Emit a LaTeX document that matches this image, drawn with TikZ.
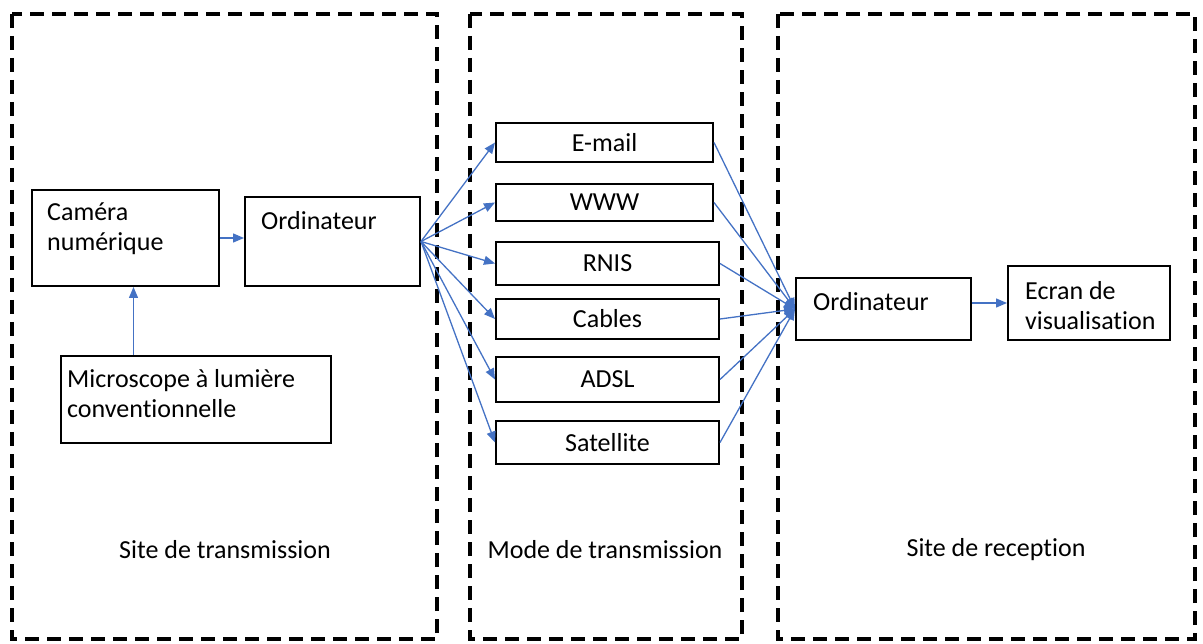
\documentclass[tikz,border=0pt]{standalone}
\usepackage{fontspec}
\setmainfont{Carlito}[Ligatures=NoCommon]
\usetikzlibrary{arrows.meta, positioning}
\definecolor{linkblue}{RGB}{68,114,196}

\begin{document}
\begin{tikzpicture}[x=1pt, y=-1pt,
  frame/.style={line width=3.5pt, dash pattern=on 14pt off 8pt},
  box/.style={draw, line width=2pt, inner sep=0pt},
  txt/.style={inner sep=0pt, align=left, font=\fontsize{26}{30}\selectfont},
  chan/.style={box, anchor=west, font=\fontsize{26}{30}\selectfont},
  link/.style={linkblue, line width=1.3pt, arrows={-Triangle[length=11pt,width=9pt]}}]
  \useasboundingbox (0,0) rectangle (1203,644);
  % dashed areas
  \draw[frame] (12,14) rectangle (437,639);
  \draw[frame] (470,14) rectangle (742,639);
  \draw[frame] (778,14) rectangle (1195,639);
  % site de transmission
  \node[box, minimum width=187pt, minimum height=96pt,
    label={[txt, anchor=north west, xshift=16pt, yshift=-14pt]north west:Caméra\\numérique}] (cam) at (125.5,238) {};
  \node[box, minimum width=175pt, minimum height=89pt,
    label={[txt, anchor=north west, xshift=17pt, yshift=-15pt]north west:Ordinateur}] (ord) at (332.5,241.5) {};
  \node[box, minimum width=270pt, minimum height=87pt,
    label={[txt, anchor=north west, xshift=7pt, yshift=-14pt]north west:Microscope à lumière\\conventionnelle}] (micro) at (196,399.5) {};
  \node[txt] (site1) at (225,550) {Site de transmission};
  \draw[link] ([xshift=8pt]micro.north -| cam.south) -- ([xshift=8pt]cam.south);
  \draw[link] (cam.east) -- (cam.east -| ord.west);
  % mode de transmission
  \node[chan, minimum width=217pt, minimum height=39pt] (mail) at (495,142.5) {E-mail};
  \node[chan, minimum width=217pt, minimum height=37pt] (www) at (495,202.5) {WWW};
  \node[chan, minimum width=223pt, minimum height=43pt] (rnis) at (495,263.5) {RNIS};
  \node[chan, minimum width=223pt, minimum height=40pt] (cables) at (495,319) {Cables};
  \node[chan, minimum width=223pt, minimum height=45pt] (adsl) at (495,379.5) {ADSL};
  \node[chan, minimum width=223pt, minimum height=43pt] (sat) at (495,442.5) {Satellite};
  \node[txt] (site2) at (605,550) {Mode de transmission};
  % site de reception
  \node[box, minimum width=175pt, minimum height=62pt,
    label={[txt, anchor=north west, xshift=18pt, yshift=-15pt]north west:Ordinateur}] (ord2) at (883.5,309) {};
  \node[box, minimum width=162pt, minimum height=74pt,
    label={[txt, anchor=north west, xshift=18pt, yshift=-16pt]north west:Ecran de\\visualisation}] (ecran) at (1089,303) {};
  \node[txt] (site3) at (996,550) {Site de reception};
  \draw[link] (ord2.east |- ecran.west) -- (ecran.west);
  \foreach \c in {mail, www, rnis, cables, adsl, sat} {
    \draw[link] (ord.east) -- (\c.west);
    \draw[link] (\c.east) -- (ord2.west);
  }
\end{tikzpicture}
\end{document}
